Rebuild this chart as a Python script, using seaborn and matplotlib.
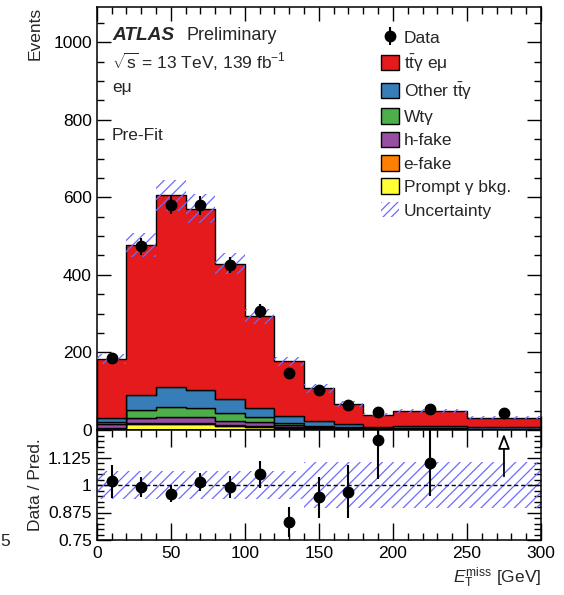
import numpy as np
import pandas as pd
import matplotlib
matplotlib.use("Agg")
import matplotlib.pyplot as plt
import matplotlib.patches as mpatches
from matplotlib.ticker import MultipleLocator, FixedLocator
import seaborn as sns

# ---- binning (E_T^miss in GeV) ----
bin_edges = [0, 20, 40, 60, 80, 100, 120, 140, 160, 180, 200, 250, 300]
bin_centres = [10, 30, 50, 70, 90, 110, 130, 150, 170, 190, 225, 275]

# ---- pre-fit predictions per bin (events) ----
ttg_emu = [151, 389, 495, 467, 350, 235, 140, 84, 52, 30, 40, 25]
other_ttg = [10.5, 38, 50, 46, 35, 25, 18, 13, 8, 4, 5, 3.5]
wt_gamma = [5.5, 20, 26, 25, 21, 13, 6, 3, 2, 2, 2, 1.5]
h_fake = [11, 13, 15, 15, 10, 10, 6, 4, 2.5, 1.5, 1.5, 1.2]
e_fake = [1, 3, 4, 3, 2, 2, 1, 1, 0.5, 0.5, 0.5, 0.3]
prompt_bkg = [4, 15, 15, 15, 11, 8, 6, 3, 2, 1, 1, 0.5]

# ---- observed data ----
data = [186, 474, 581, 579, 425, 307, 147, 102, 65, 47, 55, 45]
data_err = [13.6, 21.8, 24.1, 24.1, 20.6, 17.5, 12.1, 10.1, 8.1, 6.9, 7.4, 6.7]

# ---- relative uncertainty of the total prediction ----
rel_unc = [0.065, 0.065, 0.065, 0.065, 0.065, 0.065, 0.065,
           0.105, 0.105, 0.105, 0.105, 0.105]

labels = [r"t$\bar{\mathrm{t}}$γ eμ", r"Other t$\bar{\mathrm{t}}$γ", "Wtγ",
          "h-fake", "e-fake", "Prompt γ bkg."]
series = [ttg_emu, other_ttg, wt_gamma, h_fake, e_fake, prompt_bkg]
colors = ["#e41a1c", "#377eb8", "#4daf4a", "#984ea3", "#ff7f00", "#ffff33"]
hatch_col = "#6b6bff"

sns.set_style("ticks")
plt.rcParams["font.family"] = ["Liberation Sans", "DejaVu Sans"]
plt.rcParams["mathtext.fontset"] = "custom"
plt.rcParams["mathtext.rm"] = "Liberation Sans"
plt.rcParams["mathtext.it"] = "Liberation Sans:italic"
plt.rcParams["mathtext.bf"] = "Liberation Sans:bold"
plt.rcParams["hatch.linewidth"] = 0.9
plt.rcParams["axes.linewidth"] = 1.1

rows = []
for lab, vals in zip(labels, series):
    for c, v in zip(bin_centres, vals):
        rows.append({"met": c, "events": v, "process": lab})
df = pd.DataFrame(rows)

fig = plt.figure(figsize=(5.64, 5.95), dpi=100)
L, R = 96.7 / 564, 541 / 564
ax = fig.add_axes([L, 1 - 430 / 595, R - L, (430 - 7.3) / 595])
rax = fig.add_axes([L, 1 - 540 / 595, R - L, (540 - 430) / 595], sharex=ax)

# stacked prediction
sns.histplot(data=df, x="met", weights="events", hue="process",
             hue_order=labels, palette=dict(zip(labels, colors)),
             multiple="stack", bins=bin_edges, element="step",
             alpha=1, edgecolor="black", linewidth=1.0, legend=False, ax=ax)

edges = np.array(bin_edges, dtype=float)
widths = np.diff(edges)
total = np.sum(np.array(series, dtype=float), axis=0)
unc = total * np.array(rel_unc)

ax.bar(edges[:-1], 2 * unc, bottom=total - unc, width=widths, align="edge",
       facecolor="none", edgecolor=hatch_col, hatch="///", linewidth=0, zorder=3)

err = ax.errorbar(bin_centres, data, yerr=data_err, fmt="o", color="black",
                  ms=7.5, elinewidth=1.5, capsize=0, zorder=5)

ax.set_xlim(0, 300)
ax.set_ylim(0, 1090)
ax.set_xlabel("")
ax.set_ylabel("")
ax.yaxis.set_major_locator(MultipleLocator(200))
ax.yaxis.set_minor_locator(MultipleLocator(50))
ax.xaxis.set_major_locator(MultipleLocator(50))
ax.xaxis.set_minor_locator(MultipleLocator(10))
ax.tick_params(axis="x", labelbottom=False)
for a in (ax, rax):
    a.tick_params(which="both", direction="in", top=True, right=True,
                  labelsize=12.5, width=1.0, colors="black")
    a.tick_params(which="major", length=10)
    a.tick_params(which="minor", length=5)
    for s in a.spines.values():
        s.set_color("black")

# ratio panel
ratio = np.array(data) / total
ratio_err = np.array(data_err) / total
rmax = 1.25
rax.bar(edges[:-1], 2 * np.array(rel_unc), bottom=1 - np.array(rel_unc),
        width=widths, align="edge", facecolor="none", edgecolor=hatch_col,
        hatch="///", linewidth=0, zorder=2)
rax.axhline(1, color="black", ls=(0, (3, 2)), lw=1.0, zorder=3)
inside = ratio <= rmax
xc = np.array(bin_centres)
rax.errorbar(xc[inside], ratio[inside], yerr=ratio_err[inside], fmt="o",
             color="black", ms=7.5, elinewidth=1.5, capsize=0, zorder=5)
for x, r, e in zip(xc[~inside], ratio[~inside], ratio_err[~inside]):
    rax.annotate("", xy=(x, rmax - 0.005), xytext=(x, r - e - 0.17),
                 arrowprops=dict(arrowstyle="-|>,head_length=0.9,head_width=0.35",
                                 fc="white", ec="black", lw=1.3))
rax.set_ylim(0.75, rmax)
rax.yaxis.set_major_locator(FixedLocator([0.75, 0.875, 1.0, 1.125, 1.25]))
rax.yaxis.set_minor_locator(MultipleLocator(0.025))
rax.set_yticklabels(["0.75", "0.875", "1", "1.125", ""])
rax.set_xlim(0, 300)
rax.set_ylabel("")
rax.set_xlabel("")
rax.tick_params(axis="x", which="major", length=12, pad=4)

# axis titles
fig.text(35 / 564, 1 - 7 / 595, "Events", rotation=90, ha="center", va="top",
         fontsize=12.5)
fig.text(35 / 564, 1 - 485 / 595, "Data / Pred.", rotation=90, ha="center",
         va="center", fontsize=12.5)
fig.text(541 / 564, 1 - 578 / 595,
         r"$E_{\mathrm{T}}^{\mathrm{miss}}$ [GeV]", ha="right", va="center",
         fontsize=12.5)
fig.text(0.5 / 564, 1 - 542 / 595, "5", ha="left", va="center", fontsize=12.5)

# labels inside the plot
fig.text(112.5 / 564, 1 - 36 / 595, "ATLAS", fontweight="bold", style="italic",
         ha="left", va="center", fontsize=13.8)
fig.text(187 / 564, 1 - 36 / 595, "Preliminary", ha="left", va="center",
         fontsize=13)
fig.text(112 / 564, 1 - 62 / 595, r"$\sqrt{\mathrm{s}}$ = 13 TeV, 139 fb$^{-1}$",
         ha="left", va="center", fontsize=12.5)
fig.text(112 / 564, 1 - 87.5 / 595, "eμ", ha="left", va="center", fontsize=12.5)
fig.text(112 / 564, 1 - 136 / 595, "Pre-Fit", ha="left", va="center",
         fontsize=12.5)

# legend
handles = [err] + [mpatches.Patch(facecolor=c, edgecolor="black", lw=1.0)
                   for c in colors]
handles.append(mpatches.Patch(facecolor="none", edgecolor=hatch_col,
                              hatch="////", lw=0))
leg_labels = ["Data"] + labels + ["Uncertainty"]
ax.legend(handles, leg_labels, loc="upper left",
          bbox_to_anchor=(381 / 564, 1 - 29 / 595), bbox_transform=fig.transFigure,
          frameon=False, fontsize=12.5, borderpad=0, borderaxespad=0,
          labelspacing=0.385, handlelength=1.05, handleheight=1.0,
          handletextpad=0.25)

fig.savefig("out.png", dpi=100)
